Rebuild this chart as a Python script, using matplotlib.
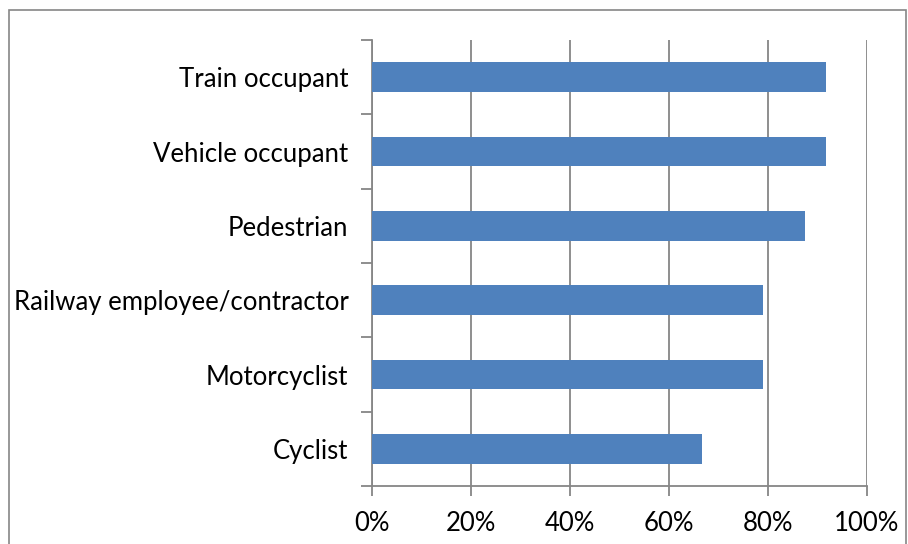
import numpy as np
import matplotlib.pyplot as plt
from matplotlib.ticker import FixedLocator, PercentFormatter

categories = ['Cyclist', 'Motorcyclist', 'Railway employee/contractor',
              'Pedestrian', 'Vehicle occupant', 'Train occupant']
shares = [0.667, 0.789, 0.789, 0.875, 0.917, 0.917]
xticks = [0, 0.2, 0.4, 0.6, 0.8, 1.0]

grey = '#868686'
plt.rcParams['font.family'] = ['Lato', 'DejaVu Sans']

fig = plt.figure(figsize=(9.08, 5.44), dpi=100)
W, H = 908, 544
ax = fig.add_axes([372 / W, 1 - 486 / H, (867 - 372) / W, (486 - 40) / H])

# chart border
fig.add_artist(plt.Rectangle((9 / W, -0.05), (906 - 9) / W, 1.05 - 10 / H,
                             transform=fig.transFigure, fill=False,
                             edgecolor=grey, lw=1.2))

y = np.arange(len(categories))
ax.barh(y, shares, height=0.4, color='#4F81BD', zorder=3)

ax.set_xlim(0, 1)
ax.set_ylim(-0.5, len(categories) - 0.5)
ax.set_xticks(xticks)
ax.xaxis.set_major_formatter(PercentFormatter(1.0, decimals=0))
ax.grid(axis='x', color=grey, lw=1.3, zorder=0)

ax.set_yticks(y)
ax.set_yticklabels(categories)
ax.yaxis.set_minor_locator(FixedLocator(np.arange(-0.5, len(categories), 1)))
ax.tick_params(axis='y', which='major', length=0, pad=17, labelsize=18.5)
ax.tick_params(axis='y', which='minor', length=8, color=grey, width=1.3)
ax.tick_params(axis='x', length=7, color=grey, width=1.3, pad=11, labelsize=18.5)

for s in ['top', 'right']:
    ax.spines[s].set_visible(False)
for s in ['left', 'bottom']:
    ax.spines[s].set_color(grey)
    ax.spines[s].set_linewidth(1.3)

fig.savefig('out.png', dpi=100)
